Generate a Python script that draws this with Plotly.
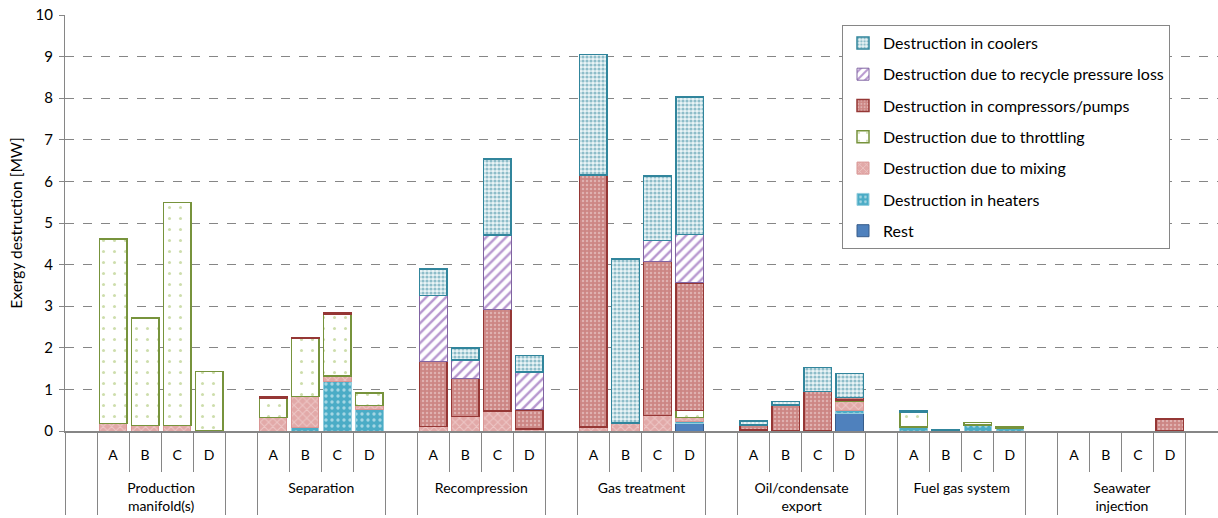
import plotly.graph_objects as go

groups = ["Production<br>manifold(s)", "Separation", "Recompression", "Gas treatment",
          "Oil/condensate<br>export", "Fuel gas system", "Seawater<br>injection"]
cases = ["A", "B", "C", "D"]

# values per group, cases A-D, in MW
rest        = [[0, 0, 0, 0], [0, 0, 0, 0], [0, 0, 0, 0], [0, 0, 0, 0.19],
               [0, 0, 0, 0.42], [0, 0, 0, 0], [0, 0, 0, 0]]
heaters     = [[0, 0, 0, 0], [0, 0.09, 1.20, 0.51], [0, 0, 0, 0], [0, 0, 0, 0.05],
               [0, 0, 0, 0.08], [0.10, 0, 0.14, 0.07], [0, 0, 0, 0]]
mixing      = [[0.18, 0.13, 0.13, 0], [0.33, 0.74, 0.12, 0.10], [0.11, 0.35, 0.48, 0.05],
               [0.10, 0.19, 0.37, 0.09], [0, 0, 0, 0.22], [0, 0, 0, 0], [0, 0, 0, 0]]
throttling  = [[4.43, 2.59, 5.36, 1.43], [0.46, 1.39, 1.49, 0.30], [0, 0, 0, 0],
               [0, 0, 0, 0.16], [0.03, 0, 0, 0.03], [0.36, 0, 0.06, 0.04], [0, 0, 0, 0]]
compressors = [[0, 0, 0, 0], [0.04, 0.03, 0.03, 0], [1.57, 0.91, 2.45, 0.46],
               [6.05, 0, 3.70, 3.07], [0.12, 0.62, 0.95, 0.06], [0, 0, 0, 0], [0, 0, 0, 0.29]]
recycle     = [[0, 0, 0, 0], [0, 0, 0, 0], [1.58, 0.45, 1.78, 0.91],
               [0, 0, 0.51, 1.16], [0, 0, 0, 0], [0, 0, 0, 0], [0, 0, 0, 0]]
coolers     = [[0, 0, 0, 0], [0, 0, 0, 0], [0.63, 0.29, 1.83, 0.40],
               [2.90, 3.94, 1.55, 3.31], [0.09, 0.09, 0.58, 0.57], [0.02, 0.03, 0, 0], [0, 0, 0, 0]]

FONT = "Lato"

# build multicategory x with spacer slots between groups
lev0, lev1 = [], []
for i, g in enumerate(groups):
    lev0.append(" " * (i + 1)); lev1.append(" ")
    for c in cases:
        lev0.append(g); lev1.append(c + "<br><span style='font-size:34px'> </span>")
lev0.append(" " * (len(groups) + 1)); lev1.append(" ")


def flatten(series):
    out = []
    for vals in series:
        out.append(None)
        out.extend([v if v else None for v in vals])
    out.append(None)
    return out


series = [
    ("Rest", rest, dict(color="#4F81BD", line=dict(color="#385D8A", width=1))),
    ("Destruction in heaters", heaters,
     dict(color="#4BACC6", line=dict(color="#93CDDD", width=1),
          pattern=dict(shape=".", fgcolor="white", bgcolor="#4BACC6", size=6, solidity=0.25))),
    ("Destruction due to mixing", mixing,
     dict(color="#E6B9B8", line=dict(color="#D99694", width=1),
          pattern=dict(shape="x", fgcolor="#F7E4E3", bgcolor="#E2A9A8", size=6, solidity=0.3))),
    ("Destruction due to throttling", throttling,
     dict(color="white", line=dict(color="#77933C", width=1.5),
          pattern=dict(shape=".", fgcolor="#9BBB59", bgcolor="white", size=11, solidity=0.06))),
    ("Destruction in compressors/pumps", compressors,
     dict(color="#CD8A88", line=dict(color="#953735", width=1.5),
          pattern=dict(shape=".", fgcolor="#F2DCDB", bgcolor="#CC8684", size=4, solidity=0.3))),
    ("Destruction due to recycle pressure loss", recycle,
     dict(color="white", line=dict(color="#8064A2", width=1),
          pattern=dict(shape="/", fgcolor="#7030A0", bgcolor="white", size=7, solidity=0.35))),
    ("Destruction in coolers", coolers,
     dict(color="#B6D5DC", line=dict(color="#31859C", width=1.5),
          pattern=dict(shape=".", fgcolor="#31859C", bgcolor="#EAF4F6", size=4, solidity=0.5))),
]

fig = go.Figure()
n = len(series)
for i, (name, vals, marker) in enumerate(series):
    fig.add_trace(go.Bar(x=[lev0, lev1], y=flatten(vals), name=name, marker=marker,
                         legendgroup=f"g{i}", legendrank=n - i))

fig.update_layout(
    width=1218, height=518,
    margin=dict(l=65, r=0, t=15, b=87),
    barmode="stack", bargap=0.14,
    plot_bgcolor="white", paper_bgcolor="white",
    font=dict(family=FONT, size=14, color="#000000"),
    legend=dict(x=(842 - 65) / 1153, y=1 - (25 - 15) / 416, xanchor="left", yanchor="top",
                bordercolor="#868686", borderwidth=1, bgcolor="white",
                traceorder="grouped", tracegroupgap=7.5, itemwidth=30,
                font=dict(family=FONT, size=16)),
)
fig.update_yaxes(range=[0, 10], dtick=1, showgrid=True, gridcolor="#868686",
                 griddash="dash", gridwidth=1, showline=True, linecolor="#868686",
                 linewidth=1, ticks="outside", ticklen=5, tickcolor="#868686",
                 tickfont=dict(size=15), ticklabelstandoff=3, zeroline=False,
                 automargin=False,
                 title=dict(text="Exergy destruction [MW]", font=dict(size=15.5), standoff=9))
fig.update_xaxes(type="multicategory", showgrid=False, showline=True, linecolor="#868686",
                 linewidth=1.5, ticks="outside", tickson="boundaries", ticklen=39,
                 tickcolor="#868686", showdividers=True, dividercolor="#868686",
                 dividerwidth=1, tickfont=dict(size=14), ticklabelstandoff=10,
                 automargin=False)

fig.write_html("out.html", config={"displayModeBar": False},
               post_script="document.body.style.margin='0';")
